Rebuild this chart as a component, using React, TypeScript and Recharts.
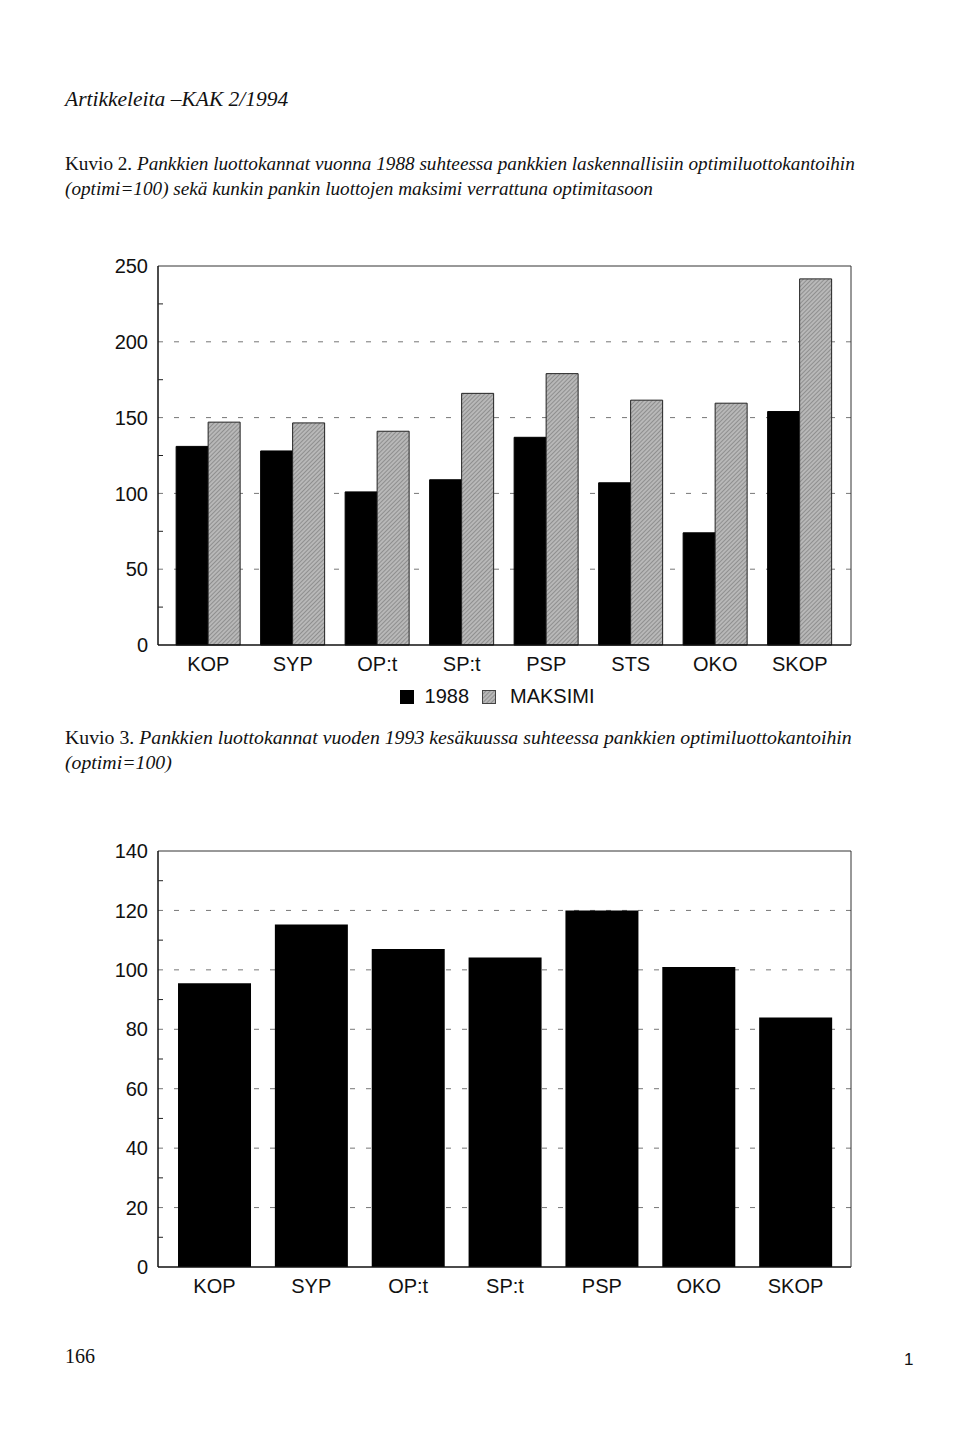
import React from 'react'
import { BarChart, Bar, XAxis, YAxis, CartesianGrid, Legend } from 'recharts'

const banks1 = ['KOP', 'SYP', 'OP:t', 'SP:t', 'PSP', 'STS', 'OKO', 'SKOP']
const level1988 = [131, 128, 101, 109, 137, 107, 74, 154]
const levelMax = [147, 146.5, 141, 166, 179, 161.5, 159.5, 241.5]
const ticks1 = [0, 25, 50, 75, 100, 125, 150, 175, 200, 225, 250]
const major1 = [0, 50, 100, 150, 200, 250]

const banks2 = ['KOP', 'SYP', 'OP:t', 'SP:t', 'PSP', 'OKO', 'SKOP']
const level1993 = [95.5, 115.3, 107, 104.2, 120, 101, 84]
const ticks2 = [0, 10, 20, 30, 40, 50, 60, 70, 80, 90, 100, 110, 120, 130, 140]
const major2 = [0, 20, 40, 60, 80, 100, 120, 140]

const data1 = banks1.map((name, i) => ({ name, y1988: level1988[i], maksimi: levelMax[i] }))
const data2 = banks2.map((name, i) => ({ name, y1993: level1993[i] }))

const sans = '"Liberation Sans", Arial, sans-serif'
const serif = '"Liberation Serif", "Times New Roman", serif'

// y axis tick: small inward mark at minor ticks, label only at majors
const makeTick = (majors: number[]) => (props: any) => {
  const { x, y, payload } = props
  const isMajor = majors.includes(payload.value)
  return (
    <g>
      {!isMajor && <line x1={x} x2={x + 5} y1={y} y2={y} stroke="#222" strokeWidth={1} />}
      {isMajor && (
        <text x={x - 10} y={y} dy="0.36em" textAnchor="end" fontFamily={sans} fontSize={20} fill="#111">
          {payload.value}
        </text>
      )}
    </g>
  )
}

const Hatch = () => (
  <defs>
    <pattern id="hatch" width="3" height="3" patternUnits="userSpaceOnUse" patternTransform="rotate(45)">
      <rect width="3" height="3" fill="#b8b8b8" />
      <line x1="0" y1="0" x2="0" y2="3" stroke="#747474" strokeWidth="1.2" />
    </pattern>
  </defs>
)

function LegendBox() {
  return (
    <div style={{ display: 'flex', justifyContent: 'center', alignItems: 'center', fontFamily: sans, fontSize: 20, color: '#111', paddingLeft: 44 }}>
      <span style={{ width: 14, height: 14, background: '#000', display: 'inline-block' }} />
      <span style={{ marginLeft: 11 }}>1988</span>
      <svg width={14} height={14} style={{ marginLeft: 13 }}>
        <rect x={0.5} y={0.5} width={13} height={13} fill="url(#hatch)" stroke="#444" />
      </svg>
      <span style={{ marginLeft: 14 }}>MAKSIMI</span>
    </div>
  )
}

// root sits inside the 8px body margin, so page coordinates are shifted by 8
const abs = (left: number, top: number): React.CSSProperties => ({ position: 'absolute', left: left - 8, top: top - 8 })

export default function App() {
  return (
    <div style={{ position: 'relative', width: 952, height: 1420, background: '#fff' }}>
      <div style={{ ...abs(65, 87), fontFamily: serif, fontStyle: 'italic', fontSize: 21.5, color: '#111' }}>
        Artikkeleita –KAK 2/1994
      </div>
      <div style={{ ...abs(65, 151), fontFamily: serif, fontSize: 19.2, lineHeight: '25px', color: '#111', width: 880, whiteSpace: 'nowrap' }}>
        Kuvio 2. <i>Pankkien luottokannat vuonna 1988 suhteessa pankkien laskennallisiin optimiluottokantoihin</i>
        <br />
        <i>(optimi=100) sekä kunkin pankin luottojen maksimi verrattuna optimitasoon</i>
      </div>

      <div style={abs(0, 246)}>
        <BarChart
          width={960}
          height={480}
          data={data1}
          margin={{ top: 19, right: 108, bottom: 5, left: 98 }}
          barCategoryGap="12%"
          barGap={0}
        >
          <Hatch />
          <CartesianGrid vertical={false} horizontalValues={[50, 100, 150, 200]} stroke="#777" strokeDasharray="5 11" />
          <XAxis dataKey="name" tickLine={false} axisLine={{ stroke: '#111', strokeWidth: 1.5 }} height={40} tickMargin={6} padding={{ left: 8, right: 9 }} tick={{ fontFamily: sans, fontSize: 20, fill: '#111' }} interval={0} />
          <XAxis xAxisId="top" orientation="top" dataKey="name" height={1} tick={false} tickLine={false} axisLine={{ stroke: '#333', strokeWidth: 1 }} />
          <YAxis domain={[0, 250]} ticks={ticks1} width={60} tickSize={0} tickMargin={0} tickLine={false} axisLine={{ stroke: '#111', strokeWidth: 1.5 }} tick={makeTick(major1)} interval={0} />
          <YAxis yAxisId="right" orientation="right" domain={[0, 250]} width={1} tick={false} tickLine={false} axisLine={{ stroke: '#333', strokeWidth: 1 }} />
          <Legend verticalAlign="bottom" height={36} content={() => <LegendBox />} />
          <Bar dataKey="y1988" name="1988" fill="#000" stroke="#000" isAnimationActive={false} />
          <Bar dataKey="maksimi" name="MAKSIMI" fill="url(#hatch)" stroke="#222" strokeWidth={1} isAnimationActive={false} />
        </BarChart>
      </div>

      <div style={{ ...abs(65, 725), fontFamily: serif, fontSize: 19.8, lineHeight: '25px', color: '#111', width: 880, whiteSpace: 'nowrap' }}>
        Kuvio 3. <i>Pankkien luottokannat vuoden 1993 kesäkuussa suhteessa pankkien optimiluottokantoihin</i>
        <br />
        <i>(optimi=100)</i>
      </div>

      <div style={abs(0, 830)}>
        <BarChart
          width={960}
          height={477}
          data={data2}
          margin={{ top: 20, right: 108, bottom: 0, left: 98 }}
          barCategoryGap="12.4%"
        >
          <CartesianGrid vertical={false} horizontalValues={[20, 40, 60, 80, 100, 120]} stroke="#777" strokeDasharray="5 11" />
          <XAxis dataKey="name" tickLine={false} axisLine={{ stroke: '#111', strokeWidth: 1.5 }} height={40} tickMargin={6} padding={{ left: 8, right: 7 }} tick={{ fontFamily: sans, fontSize: 20, fill: '#111' }} interval={0} />
          <XAxis xAxisId="top" orientation="top" dataKey="name" height={1} tick={false} tickLine={false} axisLine={{ stroke: '#333', strokeWidth: 1 }} />
          <YAxis domain={[0, 140]} ticks={ticks2} width={60} tickSize={0} tickMargin={0} tickLine={false} axisLine={{ stroke: '#111', strokeWidth: 1.5 }} tick={makeTick(major2)} interval={0} />
          <YAxis yAxisId="right" orientation="right" domain={[0, 140]} width={1} tick={false} tickLine={false} axisLine={{ stroke: '#333', strokeWidth: 1 }} />
          <Bar dataKey="y1993" name="1993" fill="#000" isAnimationActive={false} />
        </BarChart>
      </div>

      <div style={{ ...abs(65, 1345), fontFamily: serif, fontSize: 20, color: '#111' }}>166</div>
      <div style={{ ...abs(904, 1350), fontFamily: sans, fontSize: 17, color: '#111' }}>1</div>
    </div>
  )
}
